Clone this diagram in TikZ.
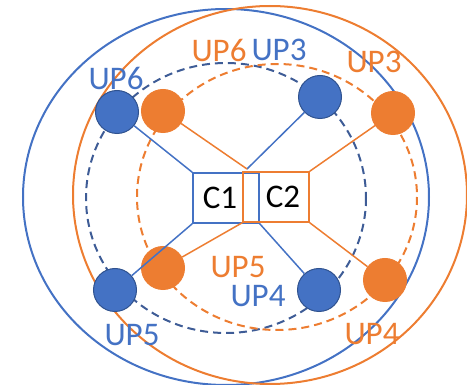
\documentclass[tikz,border=0pt]{standalone}
\usepackage{fontspec}
\setmainfont{Carlito}
\definecolor{upblue}{HTML}{4472C4}
\definecolor{updark}{HTML}{2F528F}
\definecolor{updash}{HTML}{3E5C96}
\definecolor{uporange}{HTML}{ED7D31}
\tikzset{
  bdot/.style={circle, fill=upblue, draw=updark, line width=1pt, minimum size=43pt, inner sep=0pt},
  odot/.style={circle, fill=uporange, draw=uporange, line width=1pt, minimum size=43pt, inner sep=0pt},
  cbox/.style={rectangle, line width=1.5pt, minimum width=66pt, minimum height=50pt, inner sep=0pt},
  blab/.style={text=upblue, inner sep=0pt},
  olab/.style={text=uporange, inner sep=0pt},
}
\begin{document}
\begin{tikzpicture}[x=1pt, y=-1pt, font=\fontsize{33}{36}\selectfont]
  \useasboundingbox (0,0) rectangle (467,385);
  \clip (0,0) rectangle (467,385);
  % rings
  \draw[upblue, line width=2pt] (226,197) ellipse [x radius=203, y radius=188];
  \draw[uporange, line width=2pt] (270,195) ellipse [x radius=197, y radius=189];
  \draw[updash, line width=2pt, dash pattern=on 8pt off 5pt] (226,198) ellipse [x radius=140, y radius=135];
  \draw[uporange, line width=2pt, dash pattern=on 8pt off 5pt] (277,197) ellipse [x radius=140, y radius=133];
  % user planes
  \node[bdot] (b6) at (117,112) {};
  \node[bdot] (b3) at (320,97) {};
  \node[bdot] (b5) at (115,290) {};
  \node[bdot] (b4) at (319,290) {};
  \node[odot] (o6) at (163,111) {};
  \node[odot] (o3) at (393,113) {};
  \node[odot] (o5) at (163,268) {};
  \node[odot] (o4) at (385,280) {};
  % controllers
  \node[cbox, draw=upblue, label={[xshift=-6pt]center:C1}] (c1) at (226,198) {};
  \node[cbox, draw=uporange, label={[xshift=7pt]center:C2}] (c2) at (276,197) {};
  \coordinate (top) at (247,169);
  \begin{scope}[line width=1.5pt]
    \draw[upblue] (b6) -- (c1.north west);
    \draw[upblue] (b3) -- (top);
    \draw[upblue] (b5) -- (c1.south west);
    \draw[upblue] (b4) -- (c1.south east);
    \draw[uporange] (o6) -- (top);
    \draw[uporange] (o3) -- (c2.north east);
    \draw[uporange] (o5) -- (c2.south west);
    \draw[uporange] (o4) -- (c2.south east);
  \end{scope}
  % labels
  \node[blab] (l6b) at (116,78) {UP6};
  \node[olab] (l6o) at (219,50) {UP6};
  \node[blab] (l3b) at (279,50) {UP3};
  \node[olab] (l3o) at (374,62) {UP3};
  \node[olab] (l5o) at (238,267) {UP5};
  \node[blab] (l4b) at (258,296) {UP4};
  \node[blab] (l5b) at (132,335) {UP5};
  \node[olab] (l4o) at (372,334) {UP4};
\end{tikzpicture}
\end{document}
